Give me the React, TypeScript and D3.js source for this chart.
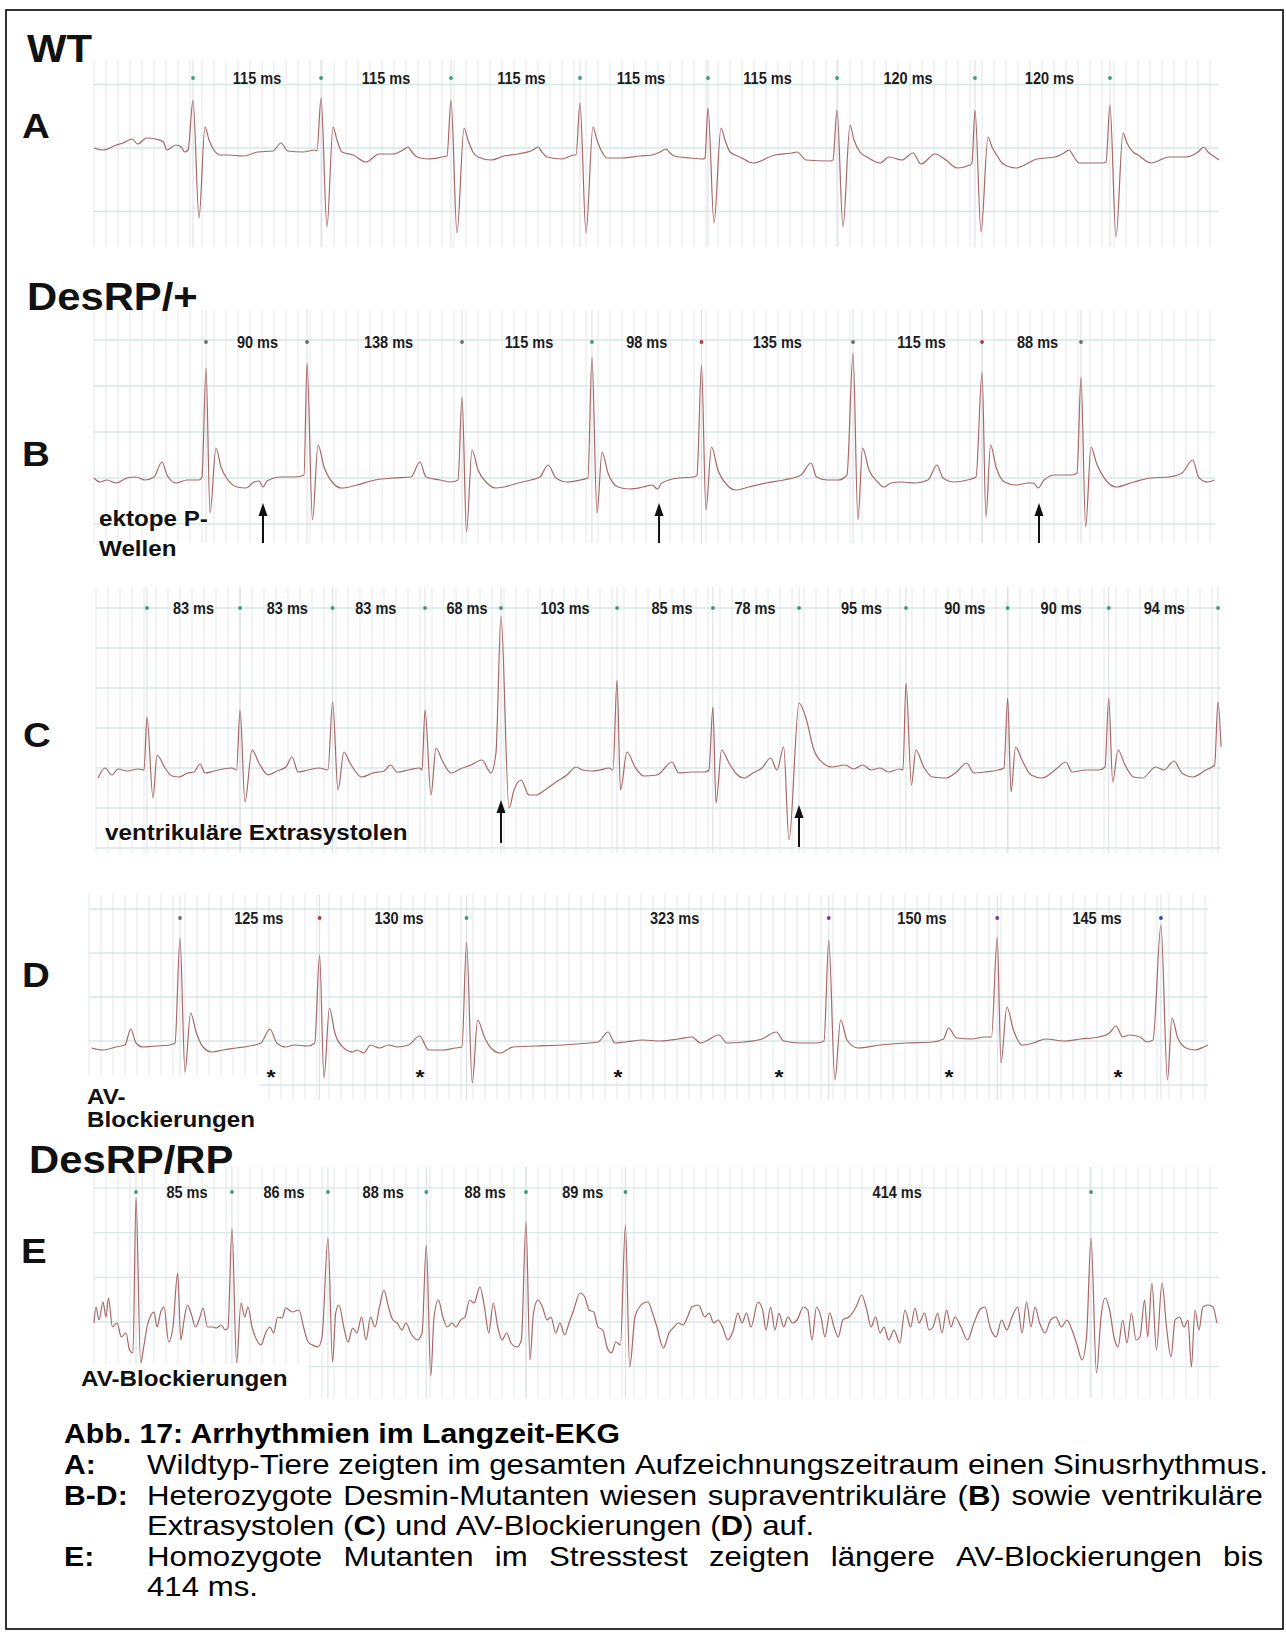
import React, { useEffect, useMemo } from 'react';
import * as d3 from 'd3';

type Pt = [number, number];

const FONT = '"Liberation Sans", Arial, Helvetica, sans-serif';
const SX = 1.1; // horizontal stretch of the original figure
const PX_PER_MS = 1.12;
const PX_PER_MV = 100;
const GRID_DX = 12;

// ================= DATA =================
// Panel A (WT)
const A_BEATS = [88.4, 202.7, 318.75, 433.9, 548.2, 663.4, 786.6, 907.1];
const A_INTERVALS = [115, 115, 115, 115, 115, 120, 120];
const A_TRACE: Pt[] = [
  [0, .04], [8, .02], [20, .07], [26, .09], [34, .13], [39, .08], [47, .14], [55, .13], [62, .10], [65, .02], [73, .07], [78, .05], [81, 0], [84, .02],
  [88.4, .52], [93.75, -.66], [99.1, .25], [102.7, .12], [107.1, .02], [112.5, -.03], [119.6, -.03], [133, -.04], [146.4, 0], [159.8, .01], [167, .09], [173, .01], [186.6, 0], [197.3, .02], [199.1, .01],
  [202.7, .54], [208, -.75], [213.4, .25], [217, .12], [221.4, 0], [231.3, -.03], [242.9, -.10], [254.5, -.02], [267, -.02], [275.9, .02], [280.4, .05], [283.9, 0], [288.4, -.05], [298.2, -.07], [310.7, -.05], [315.2, -.04],
  [318.75, .52], [324.1, -.81], [330.4, .24], [333.9, .12], [338.4, 0], [342.9, -.05], [354.5, -.08], [366, -.04], [378.6, -.02], [392, .02], [396.4, .05], [400, 0], [404.5, -.05], [417.9, -.07], [428.6, -.03], [430.4, -.03],
  [433.9, .49], [439.3, -.81], [445.5, .25], [449.1, .12], [453.6, 0], [458, -.06], [471.4, -.06], [487.5, -.04], [498.2, -.03], [505.4, 0], [510.7, .03], [514.3, -.01], [517.9, -.04], [532.1, -.06], [543.75, -.07], [545.5, -.06],
  [548.2, .44], [553.6, -.71], [559.8, .24], [563.4, .12], [567.9, 0], [576.8, -.05], [588.4, -.11], [608, -.03], [623.2, -.01], [627.7, 0], [635.7, -.08], [657.1, -.09], [659.8, -.08],
  [663.4, .42], [668.75, -.75], [675, .27], [678.6, .12], [683.9, 0], [690.2, -.05], [701.8, -.11], [709.8, -.05], [721.4, -.08], [731.25, -.01], [738.4, -.12], [750.9, -.02], [760.7, -.08], [770.5, -.16], [782.1, -.13], [783.9, -.11],
  [786.6, .42], [792, -.80], [798.2, .15], [801.8, .05], [807.1, -.05], [810.7, -.11], [823.2, -.16], [842, -.07], [858, -.05], [866, -.01], [870.5, .02], [875, -.05], [879.5, -.11], [900.9, -.11], [903.6, -.10],
  [907.1, .47], [912.5, -.85], [918.75, .19], [922.3, .09], [927.7, 0], [932.1, -.03], [943.75, -.11], [959.8, -.05], [975, -.05], [985.7, 0], [991, .05], [994.6, 0], [998.2, -.03], [1004.5, -.08],
];

// Panel B (DesRP/+, supraventricular)
const B_BEATS = [100, 190.2, 328.6, 444.6, 542.4, 677.7, 792.9, 881.25];
const B_INTERVALS = [90, 138, 115, 98, 135, 115, 88];
const B_ECTOPIC_P = [150.9, 504.5, 843.75];
const B_TRACE: Pt[] = [
  [0, 0], [5.4, -.04], [11.6, -.02], [19.6, -.05], [29.5, 0], [37.5, .01], [45.5, -.02], [53.6, .01], [60.7, .16], [65.2, .03], [73.2, -.05], [83, -.02], [93.75, -.02], [96.4, .01],
  [100, 1.10], [103.6, -.35], [108.9, .30], [113.4, .11], [119.6, -.02], [127.7, -.09], [135.7, -.10], [142.9, -.04], [147.5, -.03], [150.9, -.09], [154.5, -.03], [167, .01], [179.5, .01], [187.5, .03],
  [190.2, 1.15], [195.1, -.42], [200, .33], [205.4, .11], [213.4, -.05], [221, -.10], [234.8, -.07], [250.9, -.02], [267, 0], [283, .01], [291, .16], [296.4, .01], [308.9, -.02], [318.75, -.04], [325, -.02],
  [328.6, .81], [332.6, -.54], [337.5, .28], [342.9, .08], [350.9, -.05], [358.5, -.10], [366, -.09], [378.6, -.05], [390.2, -.02], [398.2, .01], [405.4, .13], [412.5, 0], [422.3, -.04], [433.9, -.02], [441, 0],
  [444.6, 1.21], [449.1, -.35], [453.6, .26], [458.9, .05], [467.9, -.09], [478.1, -.11], [490.2, -.09], [498.5, -.07], [503, -.11], [507, -.05], [521.9, 0], [535.7, .01], [538.4, .03],
  [542.4, 1.13], [546.4, -.32], [551.3, .31], [557.1, .08], [565.2, -.07], [572.9, -.12], [584.6, -.09], [600, -.05], [615.8, -.02], [631.25, .03], [640.2, .15], [645.1, .01], [654.9, -.02], [664.6, -.02], [672.3, .03],
  [677.7, 1.25], [682.1, -.42], [686.2, .30], [692, .08], [699.8, -.04], [705.4, -.09], [711.6, -.05], [721.25, -.04], [733, -.05], [744.6, -.02], [752.7, .13], [758, 0], [767.9, -.04], [779.9, -.02], [787.5, .01],
  [792.9, 1.06], [796.4, -.39], [800.5, .33], [805.4, .11], [813, -.04], [822.9, -.07], [834.6, -.05], [839, -.05], [843, -.10], [848.2, -.02], [858, .03], [873.2, .03], [877.7, .05],
  [881.25, 1.01], [885.4, -.49], [890.2, .31], [895, .15], [904.9, -.04], [912.5, -.09], [928.3, -.04], [943.75, 0], [959.6, .01], [971.4, .05], [981, .18], [986.6, 0], [994.6, -.04], [1000.5, -.02],
];

// Panel C (ventricular extrasystoles)
const C_BEATS = [45.5, 128.6, 211.25, 293.75, 361.6, 465.2, 550.8, 627.7, 723.2, 814, 904.2, 1001.8];
const C_INTERVALS = [83, 83, 83, 68, 103, 85, 78, 95, 90, 90, 94];
const C_PVC = [361.6, 627.7];
const C_TRACE: Pt[] = [
  [1.8, -.08], [8, .02], [14.3, -.05], [19.6, .01], [27.7, -.01], [37.5, .01], [42.9, 0],
  [45.5, .53], [50.9, -.28], [54.5, .15], [61.6, .02], [67.9, -.06], [73.75, -.07], [81.7, -.03], [87.5, -.02], [92.9, .06], [97.3, -.03], [105.4, -.01], [113.4, .01], [121.4, .02], [125.5, 0],
  [128.6, .60], [133, -.32], [139.3, .20], [145.5, .07], [153.6, -.05], [161.6, -.01], [169.6, .03], [175, .13], [180.4, -.02], [189.3, 0], [199.1, .02], [207.1, 0],
  [211.25, .68], [216.1, -.20], [221.4, .18], [226.8, .07], [237.1, -.07], [247.1, -.03], [257.1, -.01], [263, .05], [268.75, -.02], [279, 0], [288.9, .02], [291.1, 0],
  [293.75, .60], [299.1, -.25], [303.6, .22], [308.9, .10], [317, -.03], [325, .01], [334.8, .05], [344.6, .10], [352.7, -.03], [357.1, .17],
  [361.6, 1.54], [368.75, -.38], [373.2, -.20], [379.5, -.10], [386.6, -.25], [392.9, -.25], [400.9, -.20], [410.7, -.12], [420.5, -.05], [428.6, .03], [434.5, 0], [442.4, -.01], [450, 0], [458, .02], [461.6, 0],
  [465.2, .90], [468.3, -.20], [474.1, .18], [481.25, .03], [489, -.06], [500.8, -.05], [514.3, .08], [520.3, -.03], [532, -.02], [543.75, -.02], [547.3, 0],
  [550.8, .63], [553.6, -.33], [558.6, .20], [565.2, .07], [571.1, -.03], [578.6, -.08], [586.6, -.03], [594.6, .02], [602.3, .12], [608, 0], [614, .23], [618.75, -.70],
  [627.7, .67], [633.6, .53], [641, .20], [649.1, .07], [657, .03], [668.75, .05], [676.5, .01], [684.4, .05], [692, 0], [700, .02], [707.8, -.02], [717.6, .01], [720.5, 0],
  [723.2, .87], [728.1, -.15], [732, .20], [739, .03], [746.9, -.07], [758.6, -.08], [768.3, -.02], [777.3, .07], [783.9, -.03], [793.75, -.02], [805.4, 0], [810.7, .02],
  [814, .72], [817, -.22], [821, .23], [826.8, .10], [834.8, -.05], [844.6, -.08], [856.25, 0], [866, .08], [871.4, -.02], [883.6, 0], [895.3, 0], [900.9, .03],
  [904.2, .72], [907.8, -.12], [912.5, .20], [918.75, .05], [926.5, -.07], [934.4, -.08], [946.1, .03], [953.6, 0], [962.5, .09], [969.6, -.03], [979.2, -.07], [990.9, 0], [998.75, .05],
  [1001.8, .68], [1004.5, .23],
];

// Panel D (AV blocks)
const D_BEATS = [81.25, 205.9, 337.1, 660.5, 810.9, 957.1];
const D_INTERVALS = [125, 130, 323, 150, 145];
const D_BLOCKED_P = [162.5, 295.5, 472.3, 616, 767.9, 918.75];
const D_TRACE: Pt[] = [
  [2.2, -.01], [12.2, -.03], [24.1, 0], [32.1, .02], [37.3, .18], [42, .04], [48.2, 0], [59.8, .01], [72, .02], [76.8, .04],
  [81.25, 1.09], [85.7, -.25], [90.7, .34], [95.9, .14], [101.8, 0], [109.8, -.05], [119.6, -.03], [131.8, -.01], [143.75, .01], [153.6, .04], [161.6, .18], [167.7, .04], [175.6, 0], [183.6, .02], [195.5, .01], [201.5, .04],
  [205.9, .92], [209.8, -.31], [214.7, .39], [219.5, .14], [227.5, -.01], [235.4, -.05], [239.3, -.03], [245.4, -.06], [251.3, .02], [259.4, -.01], [267.3, .02], [275.3, 0], [285.3, .02], [295.2, .11], [303.2, -.03], [315.2, -.03], [327.1, -.01], [333, 0],
  [337.1, 1.05], [342.2, -.36], [347, .27], [353, .10], [358.9, -.01], [367, -.06], [378.6, 0], [398.8, .01], [422.8, .02], [446.4, .04], [454.5, .05], [463.4, .15], [469.6, .04], [478.6, .05], [494.6, .07], [510.4, .06], [526.4, .08], [538.4, .10], [546, .04], [562.5, .12], [569.6, .04], [584.8, .05], [600.8, .08], [613.7, .15], [620.3, .06], [635.7, .04], [649.6, .04], [656.25, .06],
  [660.5, 1.07], [666, -.33], [671.1, .27], [676.8, .07], [686.6, -.01], [706.25, .02], [729.5, .04], [753.1, .05], [762.9, .08], [767.5, .19], [774.6, .09], [788.2, .08], [800, .10], [805.8, .10],
  [810.9, 1.10], [814.3, -.16], [819.5, .40], [825.4, .17], [833, .02], [842.9, .04], [854.5, .08], [870.3, .06], [885.7, .08], [901.5, .10], [911.25, .14], [917, .21], [923, .10], [928.6, .12], [938.4, .10], [944.5, .05], [950, .07],
  [957.1, 1.22], [962.9, -.33], [966.96, .29], [971.8, .10], [979.5, -.01], [987.5, -.03], [995.3, 0], [999.1, .02],
];

// Panel E (DesRP/RP, stress test)
const E_BEATS = [37.5, 123.2, 208.9, 296.7, 385.7, 474.5, 890.2];
const E_INTERVALS = [85, 86, 88, 88, 89, 414];
const E_TRACE: Pt[] = [
  [0, 0], [1.8, .16], [4.5, .03], [8, .21], [10.7, .06], [12.9, .25], [16.5, -.04], [20.5, 0], [24.5, -.14], [28.6, -.10], [31.7, -.27], [34.8, -.30],
  [37.5, 1.25], [41.6, -.40], [44.4, -.24], [47.3, -.04], [50.9, .08], [53.6, .11], [56.25, -.04], [59.6, .11], [62.5, .16], [66.7, -.19], [70.5, -.04], [74.7, .50], [77.5, -.17], [80.4, .03], [83.5, .18], [86.6, .10], [90.6, -.04], [94.6, .06], [97.3, .15], [101.4, -.04], [105.4, -.04], [109.4, -.05], [113.4, -.02], [117.3, -.07], [119.6, -.05],
  [123.2, .95], [127.3, -.40], [131.25, .20], [134.5, .06], [137.5, .16], [141.1, -.04], [145.3, -.17], [149.1, -.22], [153.2, -.10], [157.1, -.04], [160.4, -.10], [164, .06], [167.9, .05], [171.2, .15], [177.1, .11], [183, .13], [187.1, -.04], [191.1, -.19], [195.1, -.22], [200, -.24], [203.6, -.14],
  [208.9, .85], [213, -.39], [215.8, .10], [218.75, .18], [223, -.04], [226.8, -.19], [231, -.05], [234.8, -.10], [238.9, .06], [242.9, -.17], [246.9, .06], [250.9, -.04], [254.9, .16], [258.9, .33], [262.9, .16], [266.9, .03], [270.8, 0], [274.8, -.07], [278.6, 0], [282.8, -.10], [288.75, -.17], [292.9, -.10],
  [296.7, .78], [300.7, -.53], [303.6, .06], [307.5, .23], [311.5, .06], [315.4, -.04], [319.5, 0], [323.2, -.04], [327.4, .03], [331.25, .06], [335.4, .23], [339.3, .20], [344.6, .36], [348.6, .16], [352.5, -.10], [356.5, .20], [360.5, -.04], [364.3, -.17], [368.5, -.10], [372.3, -.20], [377.7, -.24], [381.6, -.17],
  [385.7, 1.01], [389.3, -.37], [392.4, .10], [396.4, .23], [400.4, .16], [404.5, .03], [408, .06], [412.3, -.10], [416, 0], [420.3, -.12], [424.1, 0], [428.3, .13], [433.9, .30], [438.2, .26], [442, .13], [446.2, .11], [450, -.04], [454.2, -.07], [458, -.24], [462.1, -.30], [466, -.19], [470, -.22],
  [474.5, .98], [478.3, -.44], [483, .06], [487, .16], [490.8, .20], [494.6, .21], [498.7, .10], [502.6, -.04], [508.4, -.25], [513.4, -.10], [517.9, -.04], [522, 0], [525.9, -.02], [529.9, .06], [533.9, .16], [539.6, .18], [545.5, .06], [549.1, .10], [553.3, 0], [557.1, .03], [561.2, -.04], [565.8, -.17], [570.9, -.07], [574.8, .10], [578.6, 0], [582.6, .10], [586.6, -.04], [592.9, .21], [597, .13], [600, -.07], [604.1, .16], [608, -.07], [611.6, .10], [615.8, -.04], [619.6, .06], [623.7, 0], [627.7, .03], [633.4, .16], [637.3, .13], [641, -.17], [645.1, .16], [649.1, .06], [652.7, -.14], [656.9, .10], [660.7, -.04], [664.6, -.14], [668.6, .03], [674.1, .06], [680.4, .16], [685.4, .28], [690, .13], [693.75, -.04], [697.9, .06], [701.8, -.10], [705.4, -.04], [709.6, -.17], [714.3, -.07], [719.4, -.20], [724.1, .13], [729.1, -.04], [733, .15], [736.6, 0], [741.6, .10], [745.5, -.07], [749.1, -.04], [753.3, .10], [757.1, -.10], [761.2, .13], [765.2, -.04], [768.75, .06], [774.1, -.04], [779.9, -.17], [785.7, 0], [790.8, .13], [795.5, .16], [800, -.04], [805.4, -.14], [810.4, .03], [815, -.07], [819.6, .06], [824.8, .16], [828.6, -.10], [832.6, .21], [836.6, -.04], [840.2, .16], [844.3, 0], [849.1, -.10], [854.1, .03], [858.75, .06], [863.8, -.04], [868.75, .03], [873.2, -.07], [878.3, -.24], [882.1, -.37], [886.2, -.14],
  [890.2, .85], [895.1, -.50], [899.1, .06], [902.7, .25], [906.8, .13], [910.7, -.14], [914.3, -.24], [918.5, .03], [922.3, -.20], [926.3, .10], [930.4, -.17], [933.9, -.14], [938, .23], [940.8, -.14], [944.6, .40], [948.6, -.27], [953.6, .40], [957.6, -.04], [961.6, -.34], [965.2, .03], [969.3, .06], [973.2, -.04], [976.8, .03], [979.8, -.44], [983, .13], [986.6, -.07], [990, .16], [994.6, .18], [999.1, .16], [1002.5, 0],
];

// Text content
const TITLES = ['WT', 'DesRP/+', 'DesRP/RP'];
const PANEL_LETTERS = ['A', 'B', 'C', 'D', 'E'];
const CAPTION_TITLE = 'Abb. 17: Arrhythmien im Langzeit-EKG';
const CAPTION_TAGS = ['A:', 'B-D:', '', 'E:', ''];
const CAPTION_LINES = [
  'Wildtyp-Tiere zeigten im gesamten Aufzeichnungszeitraum einen Sinusrhythmus.',
  'Heterozygote Desmin-Mutanten wiesen supraventrikuläre (**B**) sowie ventrikuläre',
  'Extrasystolen (**C**) und AV-Blockierungen (**D**) auf.',
  'Homozygote Mutanten im Stresstest zeigten längere AV-Blockierungen bis',
  '414 ms.',
];
const CAPTION_JUSTIFY = [false, true, false, true, false];

// ================= LAYOUT / STYLE =================
const GREEN = '#3f9a7a';
const RED = '#b23a48';
const GREY = '#6d6d6d';
const PURPLE = '#7a3a8c';
const BLUE = '#2c48a8';
const TRACE_COLOR = '#a66868';

type Arrow = { t: number; tip: number; tail: number };
type PanelCfg = {
  id: string; trace: Pt[]; beats: number[]; intervals: number[];
  x0: number; x1: number; baseY: number; top: number; bottom: number;
  hStep: number; hOff: number; dotY: number; dotColors: string[]; nudge: number[];
  arrows?: Arrow[]; stars?: number[]; mask?: [number, number, number, number];
};

const PANELS: PanelCfg[] = [
  { id: 'A', trace: A_TRACE, beats: A_BEATS, intervals: A_INTERVALS, x0: 94, x1: 1219, baseY: 152, top: 60, bottom: 247, hStep: 0.635, hOff: 0.04, dotY: 78,
    dotColors: A_BEATS.map(() => GREEN), nudge: [0, 0, 6, -3, -5, 2, 7] },
  { id: 'B', trace: B_TRACE, beats: B_BEATS, intervals: B_INTERVALS, x0: 94, x1: 1215, baseY: 478, top: 310, bottom: 543, hStep: 0.46, hOff: 0, dotY: 342,
    dotColors: [GREY, GREY, GREY, GREEN, RED, GREY, RED, GREY], nudge: [1, 4, 2, 0, 0, 4, 6],
    arrows: B_ECTOPIC_P.map(t => ({ t, tip: -0.25, tail: -0.65 })) },
  { id: 'C', trace: C_TRACE, beats: C_BEATS, intervals: C_INTERVALS, x0: 96, x1: 1221, baseY: 770, top: 587, bottom: 853, hStep: 0.40, hOff: 0.02, dotY: 608,
    dotColors: C_BEATS.map(() => GREEN), nudge: [0, 1, -3, 4, 6, 7, -1, 9, 8, 3, 1],
    arrows: [{ t: C_PVC[0], tip: -0.30, tail: -0.73 }, { t: C_PVC[1], tip: -0.35, tail: -0.77 }] },
  { id: 'D', trace: D_TRACE, beats: D_BEATS, intervals: D_INTERVALS, x0: 89, x1: 1208, baseY: 1047, top: 895, bottom: 1100, hStep: 0.44, hOff: 0.06, dotY: 918,
    dotColors: [GREY, RED, GREEN, PURPLE, PURPLE, BLUE], nudge: [9, 6, 27, 9, 18],
    stars: D_BLOCKED_P, mask: [85, 259, 1076, 1104] },
  { id: 'E', trace: E_TRACE, beats: E_BEATS, intervals: E_INTERVALS, x0: 94, x1: 1219, baseY: 1323, top: 1167, bottom: 1398, hStep: 0.447, hOff: 0.01, dotY: 1192,
    dotColors: E_BEATS.map(() => GREEN), nudge: [3, 4, 6, 9, 7, 39], mask: [90, 308, 1364, 1402] },
];

const TITLE_POS = [[27, 62], [27, 310], [29, 1173]];
const LETTER_POS = [[22, 138], [22, 466], [23, 747], [22, 987], [21, 1263]];
const NOTES: { text: string; x: number; y: number }[] = [
  { text: 'ektope P-', x: 99, y: 526 },
  { text: 'Wellen', x: 99, y: 556 },
  { text: 'ventrikuläre Extrasystolen', x: 105, y: 840 },
  { text: 'AV-', x: 87, y: 1104 },
  { text: 'Blockierungen', x: 87, y: 1127 },
  { text: 'AV-Blockierungen', x: 81, y: 1386 },
];

const LABEL_SIZE = 16.5;
const LABEL_SX = 0.88;
const CAP_SIZE = 28.5;
const CAP_SX = 1.095;
const CAP_TITLE_SX = 1.06;
const CAP_TAG_X = 64;
const CAP_LEFT = 147;
const CAP_RIGHT = 1263;
const CAP_BASELINES = [1443, 1474, 1505, 1535, 1566, 1596];

// ================= COMPONENTS =================
function T({ x, y, size, bold = true, anchor = 'start', fill = '#111', sx = SX, children }: any) {
  return (
    <text transform={`translate(${x},${y}) scale(${sx},1)`} fontSize={size} fontWeight={bold ? 'bold' : 'normal'}
      textAnchor={anchor} fill={fill}>{children}</text>
  );
}

function Panel({ p }: { p: PanelCfg }) {
  const dur = (p.x1 - p.x0) / PX_PER_MS;
  const xs = d3.scaleLinear().domain([0, dur]).range([p.x0, p.x1]);
  const ys = d3.scaleLinear().domain([0, 1]).range([p.baseY, p.baseY - PX_PER_MV]);
  const vTicks = d3.range(0, dur + 1e-6, GRID_DX / PX_PER_MS);
  const vMin = ys.invert(p.bottom), vMax = ys.invert(p.top);
  const kMin = Math.ceil((vMin - p.hOff) / p.hStep), kMax = Math.floor((vMax - p.hOff) / p.hStep);
  const hTicks = d3.range(kMin, kMax + 1).map(k => p.hOff + k * p.hStep);
  const path = d3.line<Pt>().x(d => xs(d[0])).y(d => ys(d[1])).curve(d3.curveMonotoneX)(p.trace) || '';
  return (
    <g>
      {vTicks.map((t, i) => (
        <line key={'v' + i} x1={xs(t)} x2={xs(t)} y1={p.top} y2={p.bottom} stroke="#e3e7eb" strokeWidth={1} />
      ))}
      {hTicks.map((v, i) => (
        <line key={'h' + i} x1={p.x0} x2={p.x1} y1={ys(v)} y2={ys(v)} stroke="#d6eae4" strokeWidth={1.3} />
      ))}
      {p.beats.map((b, i) => (
        <line key={'m' + i} x1={xs(b)} x2={xs(b)} y1={p.top} y2={p.bottom} stroke="#d9dde1" strokeWidth={1} />
      ))}
      {p.mask && <rect x={p.mask[0]} y={p.mask[2]} width={p.mask[1] - p.mask[0]} height={p.mask[3] - p.mask[2]} fill="#fff" />}
      <path d={path} fill="none" stroke={TRACE_COLOR} strokeWidth={1.2} strokeLinejoin="round" />
      {p.beats.map((b, i) => (
        <circle key={'d' + i} cx={xs(b)} cy={p.dotY} r={1.9} fill={p.dotColors[i]} />
      ))}
      {p.intervals.map((ms, i) => {
        const cx = (xs(p.beats[i]) + xs(p.beats[i + 1])) / 2 + (p.nudge[i] || 0);
        return <T key={'l' + i} x={cx} y={p.dotY + 6} size={LABEL_SIZE} sx={LABEL_SX} anchor="middle" fill="#1c1c1c">{`${ms} ms`}</T>;
      })}
      {(p.arrows || []).map((a, i) => {
        const x = xs(a.t), tipY = ys(a.tip), tailY = ys(a.tail);
        return (
          <g key={'a' + i}>
            <line x1={x} x2={x} y1={tailY} y2={tipY + 10} stroke="#111" strokeWidth={2} />
            <polygon points={`${x},${tipY} ${x - 4.5},${tipY + 13} ${x + 4.5},${tipY + 13}`} fill="#111" />
          </g>
        );
      })}
      {(p.stars || []).map((t, i) => (
        <T key={'s' + i} x={xs(t)} y={ys(-0.25) + 12} size={21} anchor="middle" fill="#111">*</T>
      ))}
    </g>
  );
}

function parseWord(w: string) {
  return w.split('**').map((t, i) => ({ t, b: i % 2 === 1 })).filter(s => s.t.length > 0);
}

function Caption() {
  const ctx = useMemo(() => document.createElement('canvas').getContext('2d') as CanvasRenderingContext2D, []);
  const meas = (t: string, b: boolean) => {
    ctx.font = `${b ? 'bold ' : ''}${CAP_SIZE}px ${FONT}`;
    return ctx.measureText(t).width * CAP_SX;
  };
  const space = meas(' ', false);
  return (
    <g fill="#000">
      <T x={CAP_TAG_X} y={CAP_BASELINES[0]} size={CAP_SIZE} sx={CAP_TITLE_SX} fill="#000">{CAPTION_TITLE}</T>
      {CAPTION_LINES.map((line, i) => {
        const y = CAP_BASELINES[i + 1];
        const words = line.split(' ').map(parseWord);
        const widths = words.map(ws => d3.sum(ws, s => meas(s.t, s.b)));
        const total = d3.sum(widths);
        const gap = CAPTION_JUSTIFY[i] && words.length > 1 ? (CAP_RIGHT - CAP_LEFT - total) / (words.length - 1) : space;
        let x = CAP_LEFT;
        const nodes = words.map((ws, j) => {
          const node = (
            <text key={j} transform={`translate(${x},${y}) scale(${CAP_SX},1)`} fontSize={CAP_SIZE} fill="#000">
              {ws.map((s, k) => <tspan key={k} fontWeight={s.b ? 'bold' : 'normal'}>{s.t}</tspan>)}
            </text>
          );
          x += widths[j] + gap;
          return node;
        });
        return (
          <g key={i}>
            {CAPTION_TAGS[i] && <T x={CAP_TAG_X} y={y} size={CAP_SIZE} sx={CAP_TITLE_SX} fill="#000">{CAPTION_TAGS[i]}</T>}
            {nodes}
          </g>
        );
      })}
    </g>
  );
}

export default function App() {
  useEffect(() => { document.body.style.margin = '0'; }, []);
  return (
    <svg width={1286} height={1632} viewBox="0 0 1286 1632" fontFamily={FONT}
      style={{ position: 'absolute', left: 0, top: 0, display: 'block', background: '#fff' }}>
      <rect x={0} y={0} width={1286} height={1632} fill="#fff" />
      {PANELS.map(p => <Panel key={p.id} p={p} />)}
      {TITLES.map((t, i) => <T key={t} x={TITLE_POS[i][0]} y={TITLE_POS[i][1]} size={38}>{t}</T>)}
      {PANEL_LETTERS.map((t, i) => <T key={t} x={LETTER_POS[i][0]} y={LETTER_POS[i][1]} size={35}>{t}</T>)}
      {NOTES.map((n, i) => <T key={i} x={n.x} y={n.y} size={22}>{n.text}</T>)}
      <Caption />
      <rect x={6} y={10} width={1277} height={1619} fill="none" stroke="#000" strokeWidth={1.6} />
    </svg>
  );
}
